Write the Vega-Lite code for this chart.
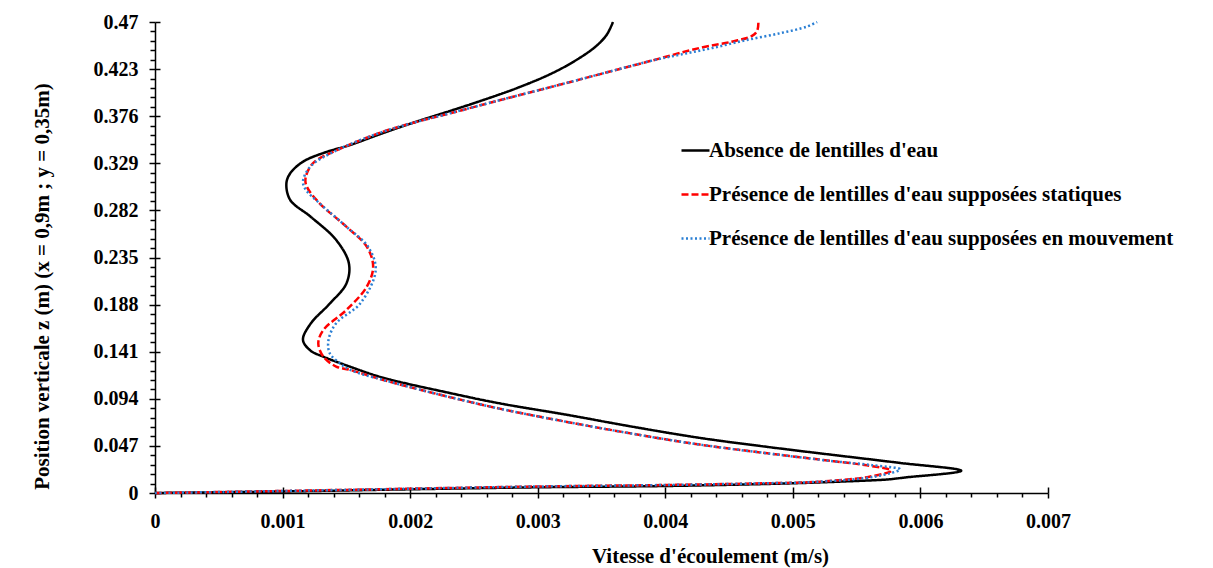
{
  "$schema": "https://vega.github.io/schema/vega-lite/v6.json",
  "width": 893,
  "height": 471,
  "autosize": {"type": "none"},
  "padding": {"left": 155, "top": 22, "right": 165, "bottom": 75},
  "background": "white",
  "config": {
    "view": {"stroke": null},
    "font": "Liberation Serif",
    "axis": {
      "labelFont": "Liberation Serif", "titleFont": "Liberation Serif",
      "labelFontWeight": "bold", "titleFontWeight": "bold",
      "labelColor": "black", "titleColor": "black",
      "domainColor": "black", "tickColor": "black",
      "grid": false, "labelFontSize": 20, "titleFontSize": 21,
      "domainWidth": 1.5, "tickWidth": 1.5, "labelFlush": false, "labelOverlap": false
    }
  },
  "data": {"values": [
    {"s":"a","v":0,"z":0},
    {"s":"a","v":0.00100,"z":0.0015},
    {"s":"a","v":0.00200,"z":0.0037},
    {"s":"a","v":0.00300,"z":0.0057},
    {"s":"a","v":0.00401,"z":0.0070},
    {"s":"a","v":0.00500,"z":0.0097},
    {"s":"a","v":0.00540,"z":0.0115},
    {"s":"a","v":0.00574,"z":0.0135},
    {"s":"a","v":0.00588,"z":0.0155},
    {"s":"a","v":0.00632,"z":0.0222},
    {"s":"a","v":0.00584,"z":0.0300},
    {"s":"a","v":0.00521,"z":0.0396},
    {"s":"a","v":0.00480,"z":0.0460},
    {"s":"a","v":0.00427,"z":0.0550},
    {"s":"a","v":0.00375,"z":0.0660},
    {"s":"a","v":0.00323,"z":0.0780},
    {"s":"a","v":0.00270,"z":0.0895},
    {"s":"a","v":0.00231,"z":0.0998},
    {"s":"a","v":0.00179,"z":0.1150},
    {"s":"a","v":0.00153,"z":0.1260},
    {"s":"a","v":0.00132,"z":0.1360},
    {"s":"a","v":0.00122,"z":0.1420},
    {"s":"a","v":0.00116,"z":0.1527},
    {"s":"a","v":0.00122,"z":0.1690},
    {"s":"a","v":0.00137,"z":0.1890},
    {"s":"a","v":0.00150,"z":0.2090},
    {"s":"a","v":0.00152,"z":0.2290},
    {"s":"a","v":0.00142,"z":0.2525},
    {"s":"a","v":0.00122,"z":0.2757},
    {"s":"a","v":0.00106,"z":0.2924},
    {"s":"a","v":0.00103,"z":0.3090},
    {"s":"a","v":0.00106,"z":0.3190},
    {"s":"a","v":0.00116,"z":0.3306},
    {"s":"a","v":0.00132,"z":0.3393},
    {"s":"a","v":0.00153,"z":0.3473},
    {"s":"a","v":0.00179,"z":0.3593},
    {"s":"a","v":0.00205,"z":0.3706},
    {"s":"a","v":0.00231,"z":0.3811},
    {"s":"a","v":0.00257,"z":0.3920},
    {"s":"a","v":0.00284,"z":0.4042},
    {"s":"a","v":0.00310,"z":0.4181},
    {"s":"a","v":0.00329,"z":0.4311},
    {"s":"a","v":0.00345,"z":0.4451},
    {"s":"a","v":0.00354,"z":0.4571},
    {"s":"a","v":0.00359,"z":0.4700},

    {"s":"b","v":0,"z":0},
    {"s":"b","v":0.00100,"z":0.0020},
    {"s":"b","v":0.00200,"z":0.0043},
    {"s":"b","v":0.00300,"z":0.0065},
    {"s":"b","v":0.00401,"z":0.0080},
    {"s":"b","v":0.00470,"z":0.0095},
    {"s":"b","v":0.00521,"z":0.0113},
    {"s":"b","v":0.00560,"z":0.0163},
    {"s":"b","v":0.00577,"z":0.0223},
    {"s":"b","v":0.00558,"z":0.0276},
    {"s":"b","v":0.00532,"z":0.0317},
    {"s":"b","v":0.00480,"z":0.0396},
    {"s":"b","v":0.00427,"z":0.0483},
    {"s":"b","v":0.00375,"z":0.0590},
    {"s":"b","v":0.00323,"z":0.0709},
    {"s":"b","v":0.00270,"z":0.0842},
    {"s":"b","v":0.00231,"z":0.0957},
    {"s":"b","v":0.00205,"z":0.1040},
    {"s":"b","v":0.00179,"z":0.1128},
    {"s":"b","v":0.00153,"z":0.1228},
    {"s":"b","v":0.00142,"z":0.1262},
    {"s":"b","v":0.00132,"z":0.1360},
    {"s":"b","v":0.00128,"z":0.1494},
    {"s":"b","v":0.00132,"z":0.1627},
    {"s":"b","v":0.00150,"z":0.1826},
    {"s":"b","v":0.00166,"z":0.2059},
    {"s":"b","v":0.00171,"z":0.2259},
    {"s":"b","v":0.00166,"z":0.2458},
    {"s":"b","v":0.00150,"z":0.2658},
    {"s":"b","v":0.00129,"z":0.2891},
    {"s":"b","v":0.00119,"z":0.3057},
    {"s":"b","v":0.00118,"z":0.3141},
    {"s":"b","v":0.00124,"z":0.3293},
    {"s":"b","v":0.00143,"z":0.3423},
    {"s":"b","v":0.00179,"z":0.3606},
    {"s":"b","v":0.00205,"z":0.3703},
    {"s":"b","v":0.00231,"z":0.3788},
    {"s":"b","v":0.00270,"z":0.3919},
    {"s":"b","v":0.00310,"z":0.4050},
    {"s":"b","v":0.00349,"z":0.4180},
    {"s":"b","v":0.00388,"z":0.4310},
    {"s":"b","v":0.00427,"z":0.4441},
    {"s":"b","v":0.00453,"z":0.4506},
    {"s":"b","v":0.00468,"z":0.4561},
    {"s":"b","v":0.00472,"z":0.4611},
    {"s":"b","v":0.00473,"z":0.4700},

    {"s":"c","v":0,"z":0},
    {"s":"c","v":0.00100,"z":0.0020},
    {"s":"c","v":0.00200,"z":0.0043},
    {"s":"c","v":0.00300,"z":0.0065},
    {"s":"c","v":0.00401,"z":0.0080},
    {"s":"c","v":0.00470,"z":0.0095},
    {"s":"c","v":0.00521,"z":0.0113},
    {"s":"c","v":0.00565,"z":0.0165},
    {"s":"c","v":0.00584,"z":0.0236},
    {"s":"c","v":0.00562,"z":0.0278},
    {"s":"c","v":0.00532,"z":0.0317},
    {"s":"c","v":0.00480,"z":0.0396},
    {"s":"c","v":0.00427,"z":0.0483},
    {"s":"c","v":0.00375,"z":0.0590},
    {"s":"c","v":0.00323,"z":0.0709},
    {"s":"c","v":0.00270,"z":0.0842},
    {"s":"c","v":0.00231,"z":0.0957},
    {"s":"c","v":0.00205,"z":0.1040},
    {"s":"c","v":0.00179,"z":0.1128},
    {"s":"c","v":0.00153,"z":0.1228},
    {"s":"c","v":0.00145,"z":0.1294},
    {"s":"c","v":0.00137,"z":0.1394},
    {"s":"c","v":0.00136,"z":0.1527},
    {"s":"c","v":0.00142,"z":0.1694},
    {"s":"c","v":0.00161,"z":0.1893},
    {"s":"c","v":0.00173,"z":0.2226},
    {"s":"c","v":0.00167,"z":0.2458},
    {"s":"c","v":0.00150,"z":0.2658},
    {"s":"c","v":0.00129,"z":0.2891},
    {"s":"c","v":0.00118,"z":0.3030},
    {"s":"c","v":0.00116,"z":0.3110},
    {"s":"c","v":0.00122,"z":0.3260},
    {"s":"c","v":0.00143,"z":0.3423},
    {"s":"c","v":0.00179,"z":0.3606},
    {"s":"c","v":0.00205,"z":0.3703},
    {"s":"c","v":0.00231,"z":0.3788},
    {"s":"c","v":0.00270,"z":0.3919},
    {"s":"c","v":0.00310,"z":0.4050},
    {"s":"c","v":0.00349,"z":0.4180},
    {"s":"c","v":0.00388,"z":0.4310},
    {"s":"c","v":0.00412,"z":0.4375},
    {"s":"c","v":0.00437,"z":0.4441},
    {"s":"c","v":0.00464,"z":0.4521},
    {"s":"c","v":0.00490,"z":0.4588},
    {"s":"c","v":0.00511,"z":0.4654},
    {"s":"c","v":0.00519,"z":0.4700}
  ]},
  "resolve": {"axis": {"x": "independent", "y": "independent"}},
  "layer": [
    {
      "mark": {"type": "point", "opacity": 0},
      "encoding": {
        "x": {"field": "v", "type": "quantitative",
          "scale": {"domain": [0, 0.007], "nice": false, "zero": false},
          "axis": {"orient": "bottom", "values": [0.0002,0.0004,0.0006,0.0008,0.0012,0.0014,0.0016,0.0018,0.0022,0.0024,0.0026,0.0028,0.0032,0.0034,0.0036,0.0038,0.0042,0.0044,0.0046,0.0048,0.0052,0.0054,0.0056,0.0058,0.0062,0.0064,0.0066,0.0068],
            "labels": false, "domain": false, "title": null, "tickSize": 4}},
        "y": {"field": "z", "type": "quantitative",
          "scale": {"domain": [0, 0.47], "nice": false, "zero": false},
          "axis": {"orient": "left", "values": [0.0094,0.0188,0.0282,0.0376,0.0564,0.0658,0.0752,0.0846,0.1034,0.1128,0.1222,0.1316,0.1504,0.1598,0.1692,0.1786,0.1974,0.2068,0.2162,0.2256,0.2444,0.2538,0.2632,0.2726,0.2914,0.3008,0.3102,0.3196,0.3384,0.3478,0.3572,0.3666,0.3854,0.3948,0.4042,0.4136,0.4324,0.4418,0.4512,0.4606],
            "labels": false, "domain": false, "title": null, "tickSize": 5}}
      }
    },
    {
      "mark": {"type": "point", "opacity": 0},
      "encoding": {
        "x": {"field": "v", "type": "quantitative",
          "scale": {"domain": [0, 0.007], "nice": false, "zero": false},
          "axis": {"orient": "bottom", "values": [0,0.001,0.002,0.003,0.004,0.005,0.006,0.007],
            "labels": false, "domain": false, "title": null, "tickSize": -6}},
        "y": {"field": "z", "type": "quantitative",
          "scale": {"domain": [0, 0.47], "nice": false, "zero": false},
          "axis": {"orient": "left", "values": [0,0.047,0.094,0.141,0.188,0.235,0.282,0.329,0.376,0.423,0.47],
            "labels": false, "domain": false, "title": null, "tickSize": -5}}
      }
    },
    {
      "mark": {"type": "line", "interpolate": "catmull-rom", "strokeWidth": 2.5},
      "encoding": {
        "x": {"field": "v", "type": "quantitative",
          "scale": {"domain": [0, 0.007], "nice": false, "zero": false},
          "axis": {"orient": "bottom", "values": [0,0.001,0.002,0.003,0.004,0.005,0.006,0.007],
            "labelExpr": "datum.value == 0 ? '0' : format(datum.value, '.3f')",
            "tickSize": 5, "labelPadding": 13,
            "title": "Vitesse d'écoulement (m/s)",
            "titleX": 555, "titleY": 69, "titleBaseline": "alphabetic", "titleAlign": "center"}},
        "y": {"field": "z", "type": "quantitative",
          "scale": {"domain": [0, 0.47], "nice": false, "zero": false},
          "axis": {"orient": "left", "values": [0,0.047,0.094,0.141,0.188,0.235,0.282,0.329,0.376,0.423,0.47],
            "labelExpr": "datum.value == 0 ? '0' : format(datum.value, '.3~f')",
            "tickSize": 6, "labelPadding": 11,
            "title": "Position verticale z (m) (x = 0,9m ; y = 0,35m)",
            "titleX": -113, "titleY": 264, "titleBaseline": "middle", "titleAlign": "center", "titleAngle": 270}},
        "order": {"field": "z", "type": "quantitative"},
        "color": {"field": "s", "type": "nominal",
          "scale": {"domain": ["a", "b", "c"], "range": ["#000000", "#FF0000", "#2A7FD4"]},
          "legend": {"title": null, "orient": "none", "legendX": 525, "legendY": 113,
            "padding": 0, "symbolType": "stroke", "symbolSize": 784, "symbolStrokeWidth": 2.5,
            "labelFont": "Liberation Serif", "labelFontWeight": "bold", "labelFontSize": 21,
            "labelColor": "black", "labelOffset": -2, "rowPadding": 18, "labelLimit": 700,
            "labelExpr": "datum.value == 'a' ? \"Absence de lentilles d'eau\" : datum.value == 'b' ? \"Présence de lentilles d'eau supposées statiques\" : \"Présence de lentilles d'eau supposées en mouvement\""}},
        "strokeDash": {"field": "s", "type": "nominal",
          "scale": {"domain": ["a", "b", "c"], "range": [[1, 0], [7, 3], [2, 2.5]]}}
      }
    }
  ]
}
